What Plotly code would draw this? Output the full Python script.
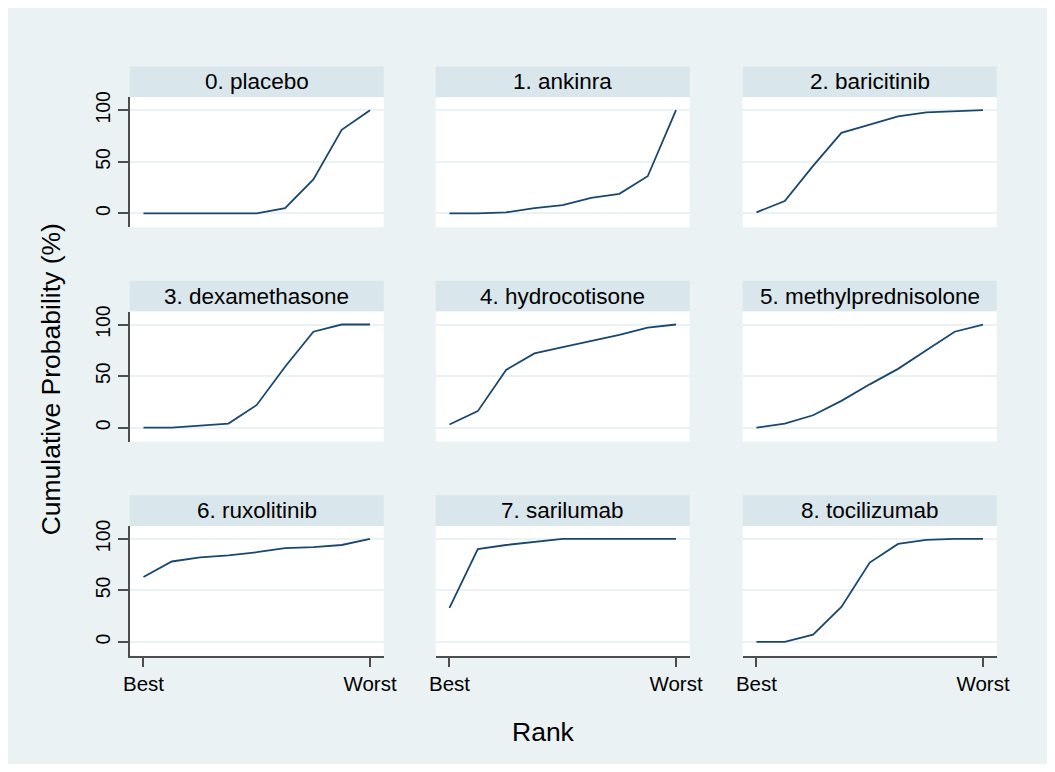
import plotly.graph_objects as go

# page body keeps its default 8px margin, so the figure is 16px smaller than the window
W, H = 1039, 756
OFF = 8  # reference pixel -> figure pixel offset

titles = ["0. placebo", "1. ankinra", "2. baricitinib",
          "3. dexamethasone", "4. hydrocotisone", "5. methylprednisolone",
          "6. ruxolitinib", "7. sarilumab", "8. tocilizumab"]
ranks = [1, 2, 3, 4, 5, 6, 7, 8, 9]
placebo = [0, 0, 0, 0, 0, 5, 33, 81, 100]
ankinra = [0, 0, 1, 5, 8, 15, 19, 36, 100]
baricitinib = [1, 12, 46, 78, 86, 94, 98, 99, 100]
dexamethasone = [0, 0, 2, 4, 22, 59, 93, 100, 100]
hydrocotisone = [3, 16, 56, 72, 78, 84, 90, 97, 100]
methylprednisolone = [0, 4, 12, 26, 42, 57, 75, 93, 100]
ruxolitinib = [63, 78, 82, 84, 87, 91, 92, 94, 100]
sarilumab = [33, 90, 94, 97, 100, 100, 100, 100, 100]
tocilizumab = [0, 0, 7, 34, 77, 95, 99, 100, 100]
series = [placebo, ankinra, baricitinib, dexamethasone, hydrocotisone,
          methylprednisolone, ruxolitinib, sarilumab, tocilizumab]
y_ticks = [0, 50, 100]
x_tick_vals = [1, 9]
x_tick_text = ["Best", "Worst"]

FONT = "Liberation Sans"
LINE = "#1a476f"
AXIS = "#4d4d4d"
GRID = "#eaf2f3"
BG = "#eaf2f3"
STRIP = "#d9e6eb"

col_x = [125, 437, 750]
col_w = 259
row_top = [61, 277, 493]
strip_h = 31
plot_h = 131


def px(x):
    return (x - OFF) / W


def py(y):
    return 1 - (y - OFF) / H


fig = go.Figure()
shapes = []
annotations = []

for i, (t, s) in enumerate(zip(titles, series)):
    r, c = divmod(i, 3)
    n = i + 1
    xa = "xaxis" if n == 1 else f"xaxis{n}"
    ya = "yaxis" if n == 1 else f"yaxis{n}"
    xref = "x" if n == 1 else f"x{n}"
    yref = "y" if n == 1 else f"y{n}"
    x0 = col_x[c]
    x1 = x0 + col_w
    ptop = row_top[r] + strip_h
    pbot = ptop + plot_h
    fig.add_trace(go.Scatter(x=ranks, y=s, mode="lines", xaxis=xref, yaxis=yref,
                             line=dict(color=LINE, width=1.8), showlegend=False,
                             hoverinfo="skip"))
    bottom = (r == 2)
    left = (c == 0)
    fig.layout[xa] = dict(domain=[px(x0), px(x1)], range=[0.515, 9.485], anchor=yref,
                          showgrid=False, zeroline=False,
                          showline=bottom, linecolor=AXIS, linewidth=1.5,
                          ticks="outside" if bottom else "", ticklen=9, tickcolor=AXIS, tickwidth=1.5,
                          tickvals=x_tick_vals, ticktext=x_tick_text, showticklabels=bottom,
                          tickfont=dict(family=FONT, size=20.5, color="#000000"), fixedrange=True)
    fig.layout[ya] = dict(domain=[py(pbot), py(ptop)], range=[-13.5, 112.5], anchor=xref,
                          showgrid=True, gridcolor=GRID, gridwidth=2, zeroline=False,
                          showline=left, linecolor=AXIS, linewidth=1.5,
                          ticks="outside" if left else "", ticklen=10, tickcolor=AXIS, tickwidth=1.5,
                          tickvals=y_ticks, showticklabels=left, tickangle=-90,
                          tickfont=dict(family=FONT, size=19.5, color="#000000"), fixedrange=True)
    # strip
    shapes.append(dict(type="rect", xref="paper", yref="paper",
                       x0=px(x0), x1=px(x1), y0=py(row_top[r] + strip_h), y1=py(row_top[r]),
                       fillcolor=STRIP, line=dict(width=0), layer="below"))
    # plot region white
    shapes.append(dict(type="rect", xref="paper", yref="paper",
                       x0=px(x0), x1=px(x1), y0=py(pbot), y1=py(ptop),
                       fillcolor="white", line=dict(width=0), layer="below"))
    annotations.append(dict(text=t, xref="paper", yref="paper",
                            x=px((x0 + x1) / 2), y=py(row_top[r] + strip_h / 2),
                            xanchor="center", yanchor="middle", showarrow=False,
                            font=dict(family=FONT, size=22.5, color="#000000")))

annotations.append(dict(text="Rank", xref="paper", yref="paper", x=px(547), y=py(732),
                        xanchor="center", yanchor="middle", showarrow=False,
                        font=dict(family=FONT, size=26.5, color="#000000")))
annotations.append(dict(text="Cumulative Probability (%)", xref="paper", yref="paper",
                        x=px(45), y=py(376), textangle=-90,
                        xanchor="center", yanchor="middle", showarrow=False,
                        font=dict(family=FONT, size=26.5, color="#000000")))

fig.update_layout(width=W, height=H, margin=dict(l=0, r=0, t=0, b=0),
                  paper_bgcolor=BG, plot_bgcolor="rgba(0,0,0,0)",
                  shapes=shapes, annotations=annotations, showlegend=False)

fig.write_html("out.html", config={"displayModeBar": False})
